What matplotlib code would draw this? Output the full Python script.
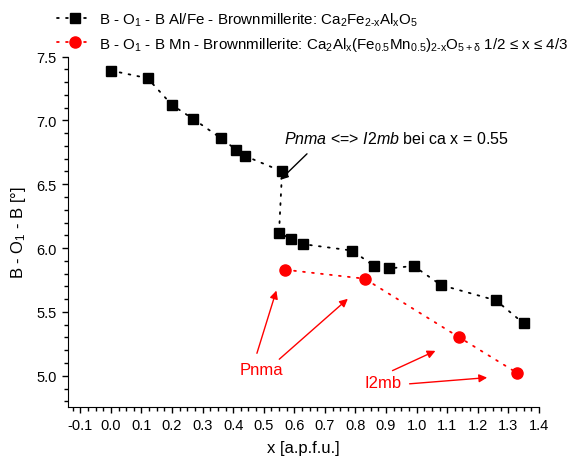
import matplotlib
matplotlib.use("Agg")
import matplotlib.pyplot as plt
from matplotlib.ticker import MultipleLocator

plt.rcParams['font.family'] = ['Liberation Sans', 'DejaVu Sans']
plt.rcParams['mathtext.fontset'] = 'custom'
plt.rcParams['mathtext.rm'] = 'Liberation Sans'
plt.rcParams['mathtext.it'] = 'Liberation Sans:italic'
plt.rcParams['mathtext.default'] = 'regular'

# Al/Fe brownmillerite
x_alfe = [0.0, 0.12, 0.20, 0.27, 0.36, 0.41, 0.44, 0.56, 0.55, 0.59, 0.63,
          0.79, 0.86, 0.91, 0.99, 1.08, 1.26, 1.35]
y_alfe = [7.39, 7.33, 7.12, 7.01, 6.86, 6.77, 6.72, 6.60, 6.12, 6.07, 6.03,
          5.98, 5.86, 5.84, 5.86, 5.71, 5.59, 5.41]

# Mn brownmillerite
x_mn = [0.57, 0.83, 1.14, 1.33]
y_mn = [5.83, 5.76, 5.30, 5.02]

label_alfe = r"B - O$_1$ - B Al/Fe - Brownmillerite: Ca$_2$Fe$_{2\text{-}x}$Al$_x$O$_5$"
label_mn = (r"B - O$_1$ - B Mn - Brownmillerite: Ca$_2$Al$_x$(Fe$_{0.5}$Mn$_{0.5}$)$_{2\text{-}x}$"
            r"O$_{5+\delta}$ 1/2 ≤ x ≤ 4/3")

fig = plt.figure(figsize=(5.87, 4.60), dpi=100)
ax = fig.add_axes([0.116, 0.113, 0.802, 0.762])

dots = (0, (1, 4))
ax.plot(x_alfe, y_alfe, color='black', ls=dots, lw=1.3, dash_capstyle='round',
        marker='s', ms=7.5, label=label_alfe)
ax.plot(x_mn, y_mn, color='red', ls=dots, lw=1.3, dash_capstyle='round',
        marker='o', ms=8, label=label_mn)

ax.set_xlim(-0.14, 1.4)
ax.set_ylim(4.755, 7.5)
ax.xaxis.set_major_locator(MultipleLocator(0.1))
ax.xaxis.set_minor_locator(MultipleLocator(0.025))
ax.yaxis.set_major_locator(MultipleLocator(0.5))
ax.yaxis.set_minor_locator(MultipleLocator(0.1))
ax.xaxis.set_major_formatter(lambda v, p: "%.1f" % v)
ax.yaxis.set_major_formatter(lambda v, p: "%.1f" % v)
ax.tick_params(which='major', direction='out', length=4.5, width=1, labelsize=10.5)
ax.tick_params(which='minor', direction='out', length=2.8, width=1)
ax.spines['top'].set_visible(False)
ax.spines['right'].set_visible(False)

ax.set_xlabel("x [a.p.f.u.]", fontsize=12, labelpad=6)
ax.set_ylabel(r"B - O$_1$ - B [°]", fontsize=12, labelpad=6)

# transition annotation
ax.text(0.567, 6.863, r"$\mathit{Pnma}$ <=> $\mathit{I2mb}$ bei ca x = 0.55",
        fontsize=11.5, va='center', ha='left')
ax.annotate("", xy=(0.547, 6.518), xytext=(0.648, 6.753),
            arrowprops=dict(arrowstyle='-|>', color='black', lw=1, mutation_scale=12))

red_arrow = dict(arrowstyle='-|>', color='red', lw=1, mutation_scale=12)
ax.text(0.4915, 5.052, "Pnma", color='red', fontsize=12, ha='center', va='center')
ax.annotate("", xy=(0.544, 5.688), xytext=(0.475, 5.155), arrowprops=red_arrow)
ax.annotate("", xy=(0.782, 5.617), xytext=(0.544, 5.115), arrowprops=red_arrow)

ax.text(0.89, 4.95, "I2mb", color='red', fontsize=12, ha='center', va='center')
ax.annotate("", xy=(1.07, 5.204), xytext=(0.913, 5.031), arrowprops=red_arrow)
ax.annotate("", xy=(1.24, 4.987), xytext=(0.968, 4.935), arrowprops=red_arrow)

fig.legend(loc='upper left', bbox_to_anchor=(0.097, 0.975), frameon=False,
           fontsize=10.9, handlelength=2.4, handletextpad=0.4, borderpad=0,
           labelspacing=0.45, borderaxespad=0)

fig.savefig("out.png", dpi=100)
